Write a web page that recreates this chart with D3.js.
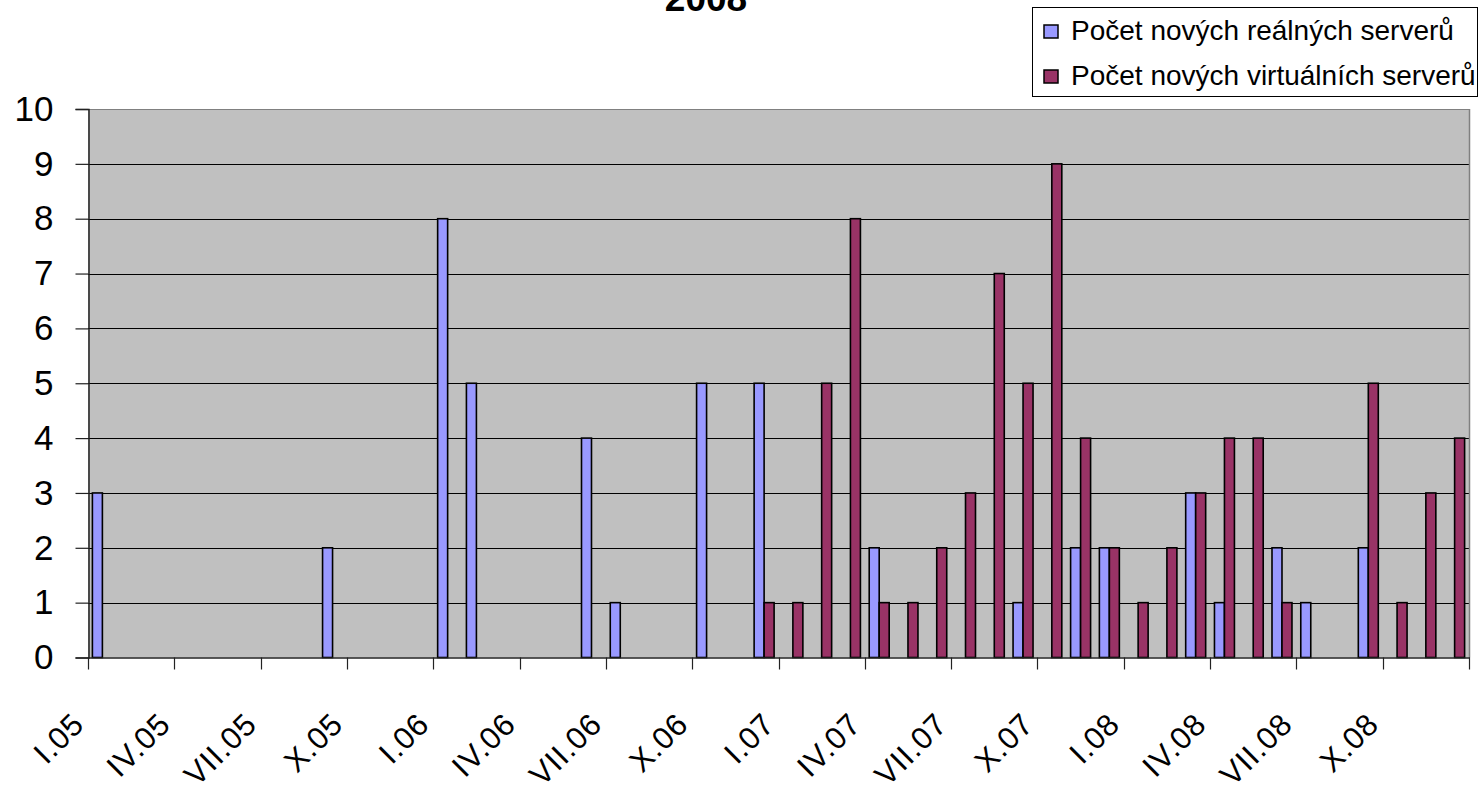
<!DOCTYPE html>
<html>
<head>
<meta charset="utf-8">
<script src="https://cdn.jsdelivr.net/npm/d3@7"></script>
<style>
  html, body { margin: 0; padding: 0; background: #fff; }
  svg { display: block; font-family: "Liberation Sans", Arial, sans-serif; }
</style>
</head>
<body>
<svg id="chart" width="1481" height="793"></svg>
<script>
// ---- data ----
const months = [
  "I.05","II.05","III.05","IV.05","V.05","VI.05","VII.05","VIII.05","IX.05","X.05","XI.05","XII.05",
  "I.06","II.06","III.06","IV.06","V.06","VI.06","VII.06","VIII.06","IX.06","X.06","XI.06","XII.06",
  "I.07","II.07","III.07","IV.07","V.07","VI.07","VII.07","VIII.07","IX.07","X.07","XI.07","XII.07",
  "I.08","II.08","III.08","IV.08","V.08","VI.08","VII.08","VIII.08","IX.08","X.08","XI.08","XII.08"
];
const realServers = [
  3,0,0,0,0,0,0,0,2,0,0,0,
  8,5,0,0,0,4,1,0,0,5,0,5,
  0,0,0,2,0,0,0,0,1,0,2,2,
  0,0,3,1,0,2,1,0,2,0,0,0
];
const virtualServers = [
  0,0,0,0,0,0,0,0,0,0,0,0,
  0,0,0,0,0,0,0,0,0,0,0,1,
  1,5,8,1,1,2,3,7,5,9,4,2,
  1,2,3,4,4,1,0,0,5,1,3,4
];
const seriesNames = ["Počet nových reálných serverů", "Počet nových virtuálních serverů"];
const seriesColors = ["#9999FF", "#993366"];
const yTicks = [0,1,2,3,4,5,6,7,8,9,10];
const titleText = "2008";

// ---- layout ----
const svg = d3.select("#chart");
const L = 88, R = 1469, T = 109, B = 657.5;

const x = d3.scaleBand().domain(months).range([L, R]).paddingInner(0).paddingOuter(0);
const xs = d3.scaleBand().domain([0, 1]).range([0, x.bandwidth()]).paddingInner(0).paddingOuter(0.44);
const y = d3.scaleLinear().domain([0, 10]).range([B, T]);

// plot background
svg.append("rect").attr("x", L).attr("y", T).attr("width", R - L).attr("height", B - T)
  .attr("fill", "#C0C0C0");

// gridlines
svg.append("g").selectAll("line").data(yTicks.filter(d => d > 0)).join("line")
  .attr("x1", L).attr("x2", R)
  .attr("y1", d => Math.round(y(d)) + 0.5).attr("y2", d => Math.round(y(d)) + 0.5)
  .attr("stroke", d => d === 10 ? "#808080" : "#000").attr("stroke-width", 1.2);

// right border
svg.append("line").attr("x1", R + 0.5).attr("x2", R + 0.5).attr("y1", T).attr("y2", B)
  .attr("stroke", "#808080").attr("stroke-width", 1.5);

// bars
const series = [realServers, virtualServers];
series.forEach((vals, si) => {
  svg.append("g").selectAll("rect")
    .data(months.map((m, i) => ({ m, v: vals[i] })).filter(d => d.v > 0))
    .join("rect")
    .attr("x", d => x(d.m) + xs(si))
    .attr("y", d => y(d.v))
    .attr("width", xs.bandwidth())
    .attr("height", d => B - y(d.v))
    .attr("fill", seriesColors[si])
    .attr("stroke", "#000")
    .attr("stroke-width", 1.6);
});

// y axis
const yAxis = d3.axisLeft(y).tickValues(yTicks).tickSize(13).tickPadding(22).tickFormat(d3.format("d"));
const gy = svg.append("g").attr("transform", `translate(${L + 0.5},0)`).call(yAxis);
gy.select(".domain").attr("stroke", "#222").attr("stroke-width", 1.5);
gy.selectAll(".tick line").attr("stroke", "#222").attr("stroke-width", 1.2);
gy.selectAll(".tick text").attr("font-size", 35).attr("fill", "#000")
  .attr("font-family", "'Liberation Sans', Arial, sans-serif");

// x axis baseline
svg.append("line").attr("x1", L).attr("x2", R + 1).attr("y1", B + 0.5).attr("y2", B + 0.5)
  .attr("stroke", "#222").attr("stroke-width", 1.5);

// x ticks at every 3rd month boundary
const tickIdx = d3.range(0, months.length + 1, 3);
const tickX = i => i < months.length ? x(months[i]) : R;
svg.append("g").selectAll("line").data(tickIdx).join("line")
  .attr("x1", i => Math.round(tickX(i)) + 0.5).attr("x2", i => Math.round(tickX(i)) + 0.5)
  .attr("y1", B).attr("y2", B + 12)
  .attr("stroke", "#222").attr("stroke-width", 1.2);

// x labels
svg.append("g").selectAll("text").data(tickIdx.filter(i => i < months.length)).join("text")
  .attr("transform", i => `translate(${tickX(i) - 2},${726}) rotate(-45)`)
  .attr("text-anchor", "end")
  .attr("font-size", 31)
  .attr("letter-spacing", 1)
  .attr("fill", "#000")
  .text(i => months[i]);

// title (partially clipped at top, as in the reference)
svg.append("text").attr("x", 706).attr("y", 11).attr("text-anchor", "middle")
  .attr("font-size", 37).attr("font-weight", "bold").attr("fill", "#000").text(titleText);

// legend
const lg = svg.append("g");
lg.append("rect").attr("x", 1032.5).attr("y", 7.5).attr("width", 445).attr("height", 89)
  .attr("fill", "#fff").attr("stroke", "#000").attr("stroke-width", 1);
seriesNames.forEach((name, i) => {
  lg.append("rect").attr("x", 1044).attr("y", 25 + i * 45).attr("width", 14).attr("height", 13)
    .attr("fill", seriesColors[i]).attr("stroke", "#000").attr("stroke-width", 1.5);
  lg.append("text").attr("x", 1071).attr("y", 40 + i * 45)
    .attr("font-size", 28).attr("fill", "#000").text(name);
});
</script>
</body>
</html>
